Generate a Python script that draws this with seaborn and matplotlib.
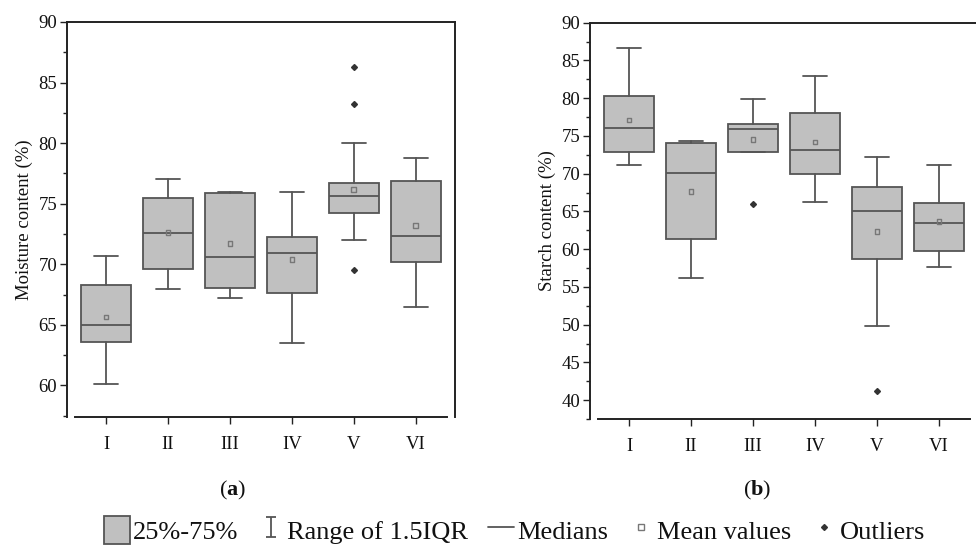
import seaborn as sns
import numpy as np
import matplotlib.pyplot as plt
from matplotlib.patches import Patch
from matplotlib.lines import Line2D
from matplotlib.path import Path
from matplotlib.ticker import MultipleLocator

# box statistics
groups = ['I', 'II', 'III', 'IV', 'V', 'VI']

moist_lo = [60.1, 68.0, 67.2, 63.5, 72.0, 66.5]
moist_q1 = [63.6, 69.6, 68.05, 67.6, 74.2, 70.2]
moist_med = [65.0, 72.55, 70.6, 70.95, 75.6, 72.3]
moist_q3 = [68.3, 75.5, 75.9, 72.25, 76.75, 76.85]
moist_hi = [70.7, 77.05, 76.0, 76.0, 80.0, 78.75]
moist_mean = [65.65, 72.6, 71.7, 70.4, 76.2, 73.2]
moist_out = [[], [], [], [], [86.3, 83.2, 69.5], []]

starch_lo = [71.15, 56.2, 72.85, 66.25, 49.8, 57.65]
starch_q1 = [72.9, 61.3, 72.85, 70.0, 58.7, 59.8]
starch_med = [76.1, 70.1, 75.95, 73.15, 65.1, 63.5]
starch_q3 = [80.25, 74.0, 76.6, 78.05, 68.3, 66.15]
starch_hi = [86.6, 74.35, 79.95, 83.0, 72.15, 71.15]
starch_mean = [77.1, 67.65, 74.55, 74.2, 62.3, 63.7]
starch_out = [[], [], [66.0], [], [41.2], []]

sns.set_style("ticks")
plt.rcParams['font.family'] = ['Liberation Serif', 'DejaVu Serif']
plt.rcParams['mathtext.fontset'] = 'custom'
plt.rcParams['mathtext.rm'] = 'Liberation Serif'
plt.rcParams['mathtext.bf'] = 'Liberation Serif:bold'
plt.rcParams['text.color'] = '#111111'
plt.rcParams['xtick.color'] = '#222222'
plt.rcParams['ytick.color'] = '#222222'
plt.rcParams['xtick.labelcolor'] = '#111111'
plt.rcParams['ytick.labelcolor'] = '#111111'
plt.rcParams['axes.labelcolor'] = '#111111'

face = '#c0c0c0'
edge = '#555555'
lw = 1.3


def panel(ax, lo, q1, med, q3, hi, mean, out, ylim, ylabel):
    stats = []
    for i in range(len(groups)):
        stats.append(dict(whislo=lo[i], q1=q1[i], med=med[i], q3=q3[i],
                          whishi=hi[i], fliers=out[i], label=groups[i]))
    pos = np.arange(1, len(groups) + 1)
    ax.bxp(stats, positions=pos, widths=0.8, capwidths=0.38,
           patch_artist=True, showfliers=True,
           boxprops=dict(facecolor=face, edgecolor=edge, lw=lw),
           medianprops=dict(color=edge, lw=lw),
           whiskerprops=dict(color=edge, lw=lw),
           capprops=dict(color=edge, lw=lw),
           flierprops=dict(marker='D', markersize=3, markerfacecolor='#333333',
                           markeredgecolor='#333333'))
    sns.scatterplot(x=pos, y=mean, ax=ax, marker='s', s=12, facecolor='none',
                    edgecolor='#777777', linewidth=1, zorder=5)
    ax.set_xlim(0.37, 6.63)
    ax.set_ylim(*ylim)
    ax.yaxis.set_major_locator(MultipleLocator(5))
    ax.yaxis.set_minor_locator(MultipleLocator(2.5))
    ax.set_xticks(pos)
    ax.set_xticklabels(groups)
    ax.tick_params(axis='y', which='major', length=5, width=1, labelsize=13.5, pad=2)
    ax.tick_params(axis='y', which='minor', length=3, width=1)
    ax.tick_params(axis='x', length=5, width=1, labelsize=13.5, pad=9)
    for s in ax.spines.values():
        s.set_linewidth(1.4)
        s.set_color('#222222')
    ax.spines['bottom'].set_bounds(0.5, 6.5)
    ax.set_ylabel(ylabel, fontsize=13.5, labelpad=4)
    ax.set_xlabel('')


fig = plt.figure(figsize=(9.76, 5.47), dpi=100)
ax1 = fig.add_axes([0.0686, 0.2377, 0.3975, 0.7221])
ax2 = fig.add_axes([0.6045, 0.2340, 0.3975, 0.7245])

panel(ax1, moist_lo, moist_q1, moist_med, moist_q3, moist_hi, moist_mean,
      moist_out, (57.4, 90), 'Moisture content (%)')
panel(ax2, starch_lo, starch_q1, starch_med, starch_q3, starch_hi, starch_mean,
      starch_out, (37.5, 90), 'Starch content (%)')

fig.text(233 / 976, 1 - 490 / 547, r'($\mathbf{a}$)', fontsize=16, ha='center', va='center')
fig.text(757 / 976, 1 - 490 / 547, r'($\mathbf{b}$)', fontsize=16, ha='center', va='center')

# legend
whisk = Path([(-0.5, 1), (0.5, 1), (0, 1), (0, -1), (-0.5, -1), (0.5, -1)],
             [Path.MOVETO, Path.LINETO, Path.MOVETO, Path.LINETO, Path.MOVETO, Path.LINETO])
handles = [
    Patch(facecolor=face, edgecolor=edge, lw=lw),
    Line2D([], [], ls='none', marker=whisk, ms=15, mfc='none', mec=edge, mew=1.3),
    Line2D([], [], color=edge, lw=lw),
    Line2D([], [], ls='none', marker='s', ms=4, mfc='none', mec='#777777', mew=1),
    Line2D([], [], ls='none', marker='D', ms=3, color='#333333'),
]
leg_labels = ['25%-75%', 'Range of 1.5IQR', 'Medians', 'Mean values', 'Outliers']
fig.legend(handles, leg_labels, loc='center', bbox_to_anchor=(0.527, 1 - 530 / 547),
           ncol=5, frameon=False, fontsize=19, handlelength=1.0, handleheight=1.3,
           handletextpad=0.1, columnspacing=0.75, borderpad=0)

fig.savefig('out.png', dpi=100)
